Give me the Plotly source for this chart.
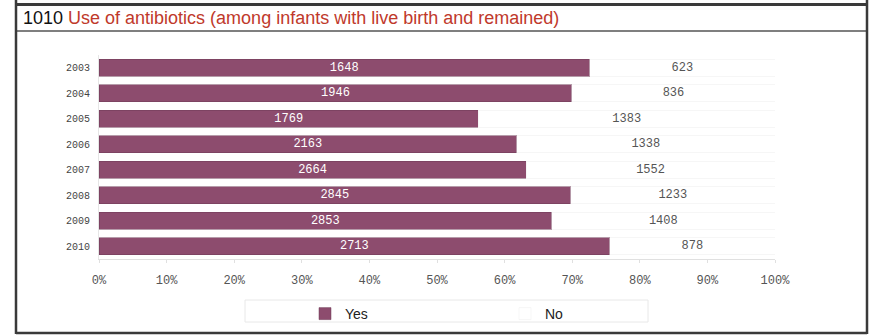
import plotly.graph_objects as go

years = ["2003", "2004", "2005", "2006", "2007", "2008", "2009", "2010"]
yes_vals = [1648, 1946, 1769, 2163, 2664, 2845, 2853, 2713]
no_vals = [623, 836, 1383, 1338, 1552, 1233, 1408, 878]
tick_vals = [0, 10, 20, 30, 40, 50, 60, 70, 80, 90, 100]
tick_text = [f"{v}%" for v in tick_vals]

W, H = 872, 335
L, R, T, B = 99, 97, 55, 76
PW, PH = W - L - R, H - T - B

def px(x):
    return (x - L) / PW

def py(y):
    return (H - B - y) / PH

mono = "Liberation Mono, Courier New, monospace"
bar_color = "#8d4c6e"

fig = go.Figure()
fig.add_trace(go.Bar(
    name="Yes", y=years, x=yes_vals, orientation="h",
    marker=dict(color=bar_color, line=dict(color="#6e3a55", width=0.5)),
    text=yes_vals, texttemplate="%{text}", textposition="inside",
    insidetextanchor="middle", constraintext="none",
    textfont=dict(family=mono, size=12, color="white"),
    hoverinfo="skip",
))
fig.add_trace(go.Bar(
    name="No", y=years, x=no_vals, orientation="h",
    marker=dict(color="white", line=dict(color="#eeeeee", width=0.5)),
    text=no_vals, texttemplate="%{text}", textposition="inside",
    insidetextanchor="middle", constraintext="none",
    textfont=dict(family=mono, size=12, color="#555555"),
    hoverinfo="skip",
))

line_col = "#3a3a3a"
shapes = [
    dict(type="line", xref="paper", yref="paper", x0=px(16), x1=px(867), y0=py(4.5), y1=py(4.5),
         line=dict(color=line_col, width=3)),
    dict(type="line", xref="paper", yref="paper", x0=px(16), x1=px(867), y0=py(31), y1=py(31),
         line=dict(color="#555555", width=1.5)),
    dict(type="line", xref="paper", yref="paper", x0=px(16), x1=px(16), y0=py(0), y1=py(334),
         line=dict(color=line_col, width=2.5)),
    dict(type="line", xref="paper", yref="paper", x0=px(867), x1=px(867), y0=py(0), y1=py(334),
         line=dict(color=line_col, width=2.5)),
    dict(type="line", xref="paper", yref="paper", x0=px(16), x1=px(867), y0=py(333), y1=py(333),
         line=dict(color=line_col, width=2.5)),
    dict(type="rect", xref="paper", yref="paper", x0=px(245), x1=px(648), y0=py(300), y1=py(322),
         line=dict(color="#e8e8e8", width=1), layer="below"),
]

fig.update_layout(
    width=W, height=H, autosize=False,
    margin=dict(l=L, r=R, t=T, b=B, pad=0, autoexpand=False),
    paper_bgcolor="white", plot_bgcolor="white",
    barmode="stack", barnorm="percent", bargap=0.34,
    showlegend=True,
    legend=dict(
        orientation="h", xref="container", yref="container",
        x=305 / W, y=(H - 298) / H, xanchor="left", yanchor="top",
        entrywidth=155, entrywidthmode="pixels",
        font=dict(family="Liberation Sans, Arial, sans-serif", size=14, color="#222222"),
        borderwidth=0, bgcolor="rgba(0,0,0,0)",
        traceorder="normal",
    ),
    xaxis=dict(
        range=[0, 100], tickvals=tick_vals, ticktext=tick_text,
        showgrid=False, zeroline=False,
        showline=True, linecolor="#e0e0e0", linewidth=1,
        ticks="outside", ticklen=3, tickcolor="#e0e0e0",
        tickfont=dict(family=mono, size=12, color="#555555"),
        ticklabelstandoff=7, fixedrange=True, automargin=False,
    ),
    yaxis=dict(
        type="category", autorange="reversed",
        showgrid=False, zeroline=False,
        showline=True, linecolor="#e6e6e6", linewidth=1,
        ticks="", tickfont=dict(family=mono, size=10, color="#444444"),
        ticklabelstandoff=6, fixedrange=True, automargin=False,
    ),
    shapes=shapes,
    annotations=[dict(
        xref="paper", yref="paper", x=px(21), y=py(18), xanchor="left", yanchor="middle",
        showarrow=False,
        text="1010 <span style='color:#c0392b'>Use of antibiotics (among infants with live birth and remained)</span>",
        font=dict(family="Liberation Sans, Arial, sans-serif", size=18, color="#111111"),
    )],
)

fig.write_html("out.html", config={"displayModeBar": False},
               post_script="document.body.style.margin='0';")
